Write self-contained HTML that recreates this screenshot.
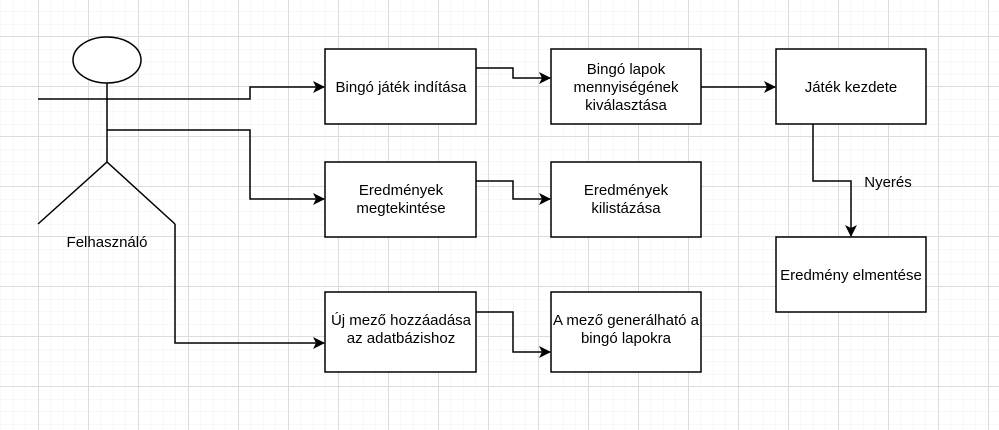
<!DOCTYPE html>
<html><head><meta charset="utf-8"><style>
html,body{margin:0;padding:0;background:#fff;}
svg{display:block;}
text{font-family:"Liberation Sans",Arial,sans-serif;font-size:15px;fill:#000;}
</style></head><body>
<svg width="999" height="430" viewBox="0 0 999 430" xmlns="http://www.w3.org/2000/svg">
<defs>
<pattern id="minor" x="0.5" y="-1" width="12.5" height="12.5" patternUnits="userSpaceOnUse">
<path d="M0 0V12.5M0 0H12.5" stroke="#f0f0f0" stroke-width="1" fill="none"/>
</pattern>
<pattern id="major" x="38" y="36" width="50" height="50" patternUnits="userSpaceOnUse">
<path d="M0.5 0V50M0 0.5H50" stroke="#dcdcdc" stroke-width="1" fill="none"/>
</pattern>
<marker id="a" markerWidth="12" markerHeight="12" refX="11" refY="6" orient="auto" markerUnits="userSpaceOnUse">
<path d="M0 0L12 6L0 12L3 6Z" fill="#000"/>
</marker>
</defs>
<rect width="999" height="430" fill="url(#minor)"/>
<rect width="999" height="430" fill="url(#major)"/>
<g stroke="#000" stroke-width="1.5" fill="none">
<ellipse cx="107" cy="60" rx="34" ry="23" fill="#fff"/>
<path d="M107 83V162"/>
<path d="M38 224L107 162L175 224"/>
<path d="M38 99H250V87H324" marker-end="url(#a)"/>
<path d="M107 130H250V199H324" marker-end="url(#a)"/>
<path d="M175 224V343H324" marker-end="url(#a)"/>
<path d="M476 68H513V78H550" marker-end="url(#a)"/>
<path d="M701 87H775" marker-end="url(#a)"/>
<path d="M476 181H513V199H550" marker-end="url(#a)"/>
<path d="M476 312H513V352H550" marker-end="url(#a)"/>
<path d="M813 124V181H851V236" marker-end="url(#a)"/>
<rect x="325" y="49" width="151" height="75" fill="#fff"/>
<rect x="551" y="49" width="150" height="75" fill="#fff"/>
<rect x="776" y="49" width="150" height="75" fill="#fff"/>
<rect x="325" y="162" width="151" height="75" fill="#fff"/>
<rect x="551" y="162" width="150" height="75" fill="#fff"/>
<rect x="776" y="237" width="150" height="75" fill="#fff"/>
<rect x="325" y="292" width="151" height="80" fill="#fff"/>
<rect x="551" y="292" width="150" height="80" fill="#fff"/>
</g>
<g text-anchor="middle">
<text x="107" y="247">Felhasználó</text>
<text x="401" y="92">Bingó játék indítása</text>
<text x="626" y="74">Bingó lapok</text>
<text x="626" y="92">mennyiségének</text>
<text x="626" y="110">kiválasztása</text>
<text x="851" y="92">Játék  kezdete</text>
<text x="401" y="195">Eredmények</text>
<text x="401" y="213">megtekintése</text>
<text x="626" y="195">Eredmények</text>
<text x="626" y="213">kilistázása</text>
<text x="851" y="280">Eredmény elmentése</text>
<text x="401" y="325">Új mező hozzáadása</text>
<text x="401" y="343">az adatbázishoz</text>
<text x="626" y="325">A mező generálható a</text>
<text x="626" y="343">bingó lapokra</text>
<text x="888" y="187">Nyerés</text>
</g>
</svg>
</body></html>
